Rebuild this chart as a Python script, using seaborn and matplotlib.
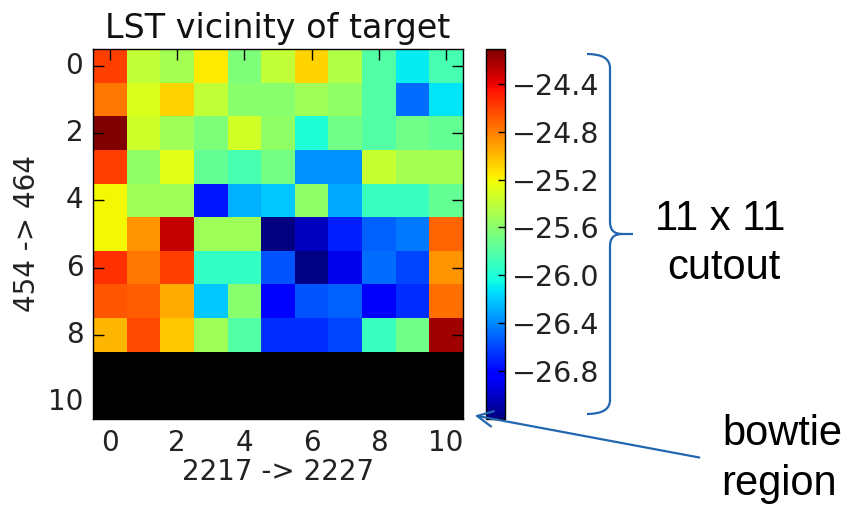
import numpy as np
import pandas as pd
import matplotlib
matplotlib.use("Agg")
import matplotlib.pyplot as plt
import seaborn as sns
from matplotlib.path import Path
from matplotlib.patches import PathPatch, FancyArrowPatch

# ---- data (LST values, rows 0..10 top to bottom, cols 0..10) ----
row0 = [-24.60, -25.40, -25.50, -25.15, -25.65, -25.40, -25.08, -25.45, -25.80, -26.10, -25.85]
row1 = [-24.78, -25.30, -25.08, -25.40, -25.60, -25.60, -25.52, -25.58, -25.80, -26.48, -26.12]
row2 = [-24.11, -25.35, -25.52, -25.65, -25.33, -25.58, -26.00, -25.70, -25.80, -25.70, -25.75]
row3 = [-24.60, -25.58, -25.28, -25.75, -25.85, -25.68, -26.37, -26.37, -25.37, -25.50, -25.50]
row4 = [-25.20, -25.52, -25.52, -26.75, -26.28, -26.20, -25.58, -26.30, -25.90, -25.90, -25.75]
row5 = [-25.20, -24.88, -24.30, -25.52, -25.52, -27.20, -27.02, -26.72, -26.52, -26.45, -24.72]
row6 = [-24.55, -24.78, -24.60, -25.93, -25.93, -26.55, -27.18, -26.90, -26.48, -26.60, -24.88]
row7 = [-24.67, -24.70, -24.95, -26.20, -25.60, -26.83, -26.55, -26.52, -26.87, -26.67, -24.75]
row8 = [-24.98, -24.63, -25.04, -25.52, -25.80, -26.67, -26.67, -26.60, -25.90, -25.70, -24.20]
row9 = [np.nan] * 11   # bowtie region (no data)
row10 = [np.nan] * 11  # bowtie region (no data)

tick_pos = [0, 2, 4, 6, 8, 10]
tick_labels = ["0", "2", "4", "6", "8", "10"]
cbar_ticks = [-24.4, -24.8, -25.2, -25.6, -26.0, -26.4, -26.8]
vmin, vmax = -27.2, -24.11

title = "LST vicinity of target"
xlabel = "2217 -> 2227"
ylabel = "454 -> 464"

data = pd.DataFrame([row0, row1, row2, row3, row4, row5, row6, row7, row8, row9, row10])

W, H = 855, 507
fig = plt.figure(figsize=(W / 100, H / 100), dpi=100)

def fx(x):
    return x / W

def fy(y):
    return 1 - y / H

ax = fig.add_axes([fx(93), fy(419), fx(463) - fx(93), fy(49) - fy(419)])
cax = fig.add_axes([fx(486), fy(419), fx(505) - fx(486), fy(49) - fy(419)])

sns.heatmap(data, cmap="jet", vmin=vmin, vmax=vmax, mask=data.isna(),
            ax=ax, cbar_ax=cax, square=False)
ax.set_facecolor("black")

for s in ax.spines.values():
    s.set_visible(True)
    s.set_color("black")
    s.set_linewidth(1.0)

ax.set_xticks([p + 0.5 for p in tick_pos])
ax.set_xticklabels(tick_labels, rotation=0)
ax.set_yticks([p + 0.5 for p in tick_pos])
ax.set_yticklabels(tick_labels, rotation=0)
ax.tick_params(direction="in", length=8, width=1, top=True, right=True,
               labelsize=20, pad=7, colors="black", labelcolor="#222222")

ax.set_title(title, fontsize=24, pad=8, color="#111111")
ax.set_xlabel(xlabel, fontsize=20, labelpad=1, color="#222222")
ax.set_ylabel(ylabel, fontsize=20, labelpad=5, color="#222222")

cb = ax.collections[0].colorbar
cb.outline.set_visible(True)
cb.outline.set_linewidth(1.0)
cb.outline.set_edgecolor("black")
cb.set_ticks(cbar_ticks)
cb.set_ticklabels([f"{t:.1f}".replace("-", "\u2212") for t in cbar_ticks])
cax.tick_params(direction="in", length=5, width=1, labelsize=20.5, pad=5,
                colors="black", labelcolor="#222222")

# ---- annotations ----
blue = "#2266b0"
xv = 610
verts1 = [(587, 54), (xv, 54), (xv, 68), (xv, 222), (xv, 234), (622, 234), (633, 234)]
codes1 = [Path.MOVETO, Path.CURVE3, Path.CURVE3, Path.LINETO, Path.CURVE3, Path.CURVE3, Path.LINETO]
verts2 = [(622, 234), (xv, 234), (xv, 246), (xv, 400), (xv, 414), (587, 414)]
codes2 = [Path.MOVETO, Path.CURVE3, Path.CURVE3, Path.LINETO, Path.CURVE3, Path.CURVE3]
for verts, codes in [(verts1, codes1), (verts2, codes2)]:
    p = Path([(fx(x), fy(y)) for x, y in verts], codes)
    fig.add_artist(PathPatch(p, transform=fig.transFigure, fill=False,
                             edgecolor=blue, linewidth=1.6))

arrow = FancyArrowPatch((fx(702), fy(458)), (fx(472), fy(415)),
                        transform=fig.transFigure, arrowstyle="->",
                        mutation_scale=28, color=blue, linewidth=1.6)
fig.add_artist(arrow)

ann_font = dict(family="Liberation Sans", fontsize=30, color="black",
                ha="center", va="center")
fig.text(fx(720), fy(219), "11 x 11", **ann_font)
fig.text(fx(724), fy(268), "cutout", **ann_font)
fig.text(fx(782), fy(434), "bowtie", **ann_font)
fig.text(fx(779), fy(484), "region", **ann_font)

fig.savefig("out.png", dpi=100)
